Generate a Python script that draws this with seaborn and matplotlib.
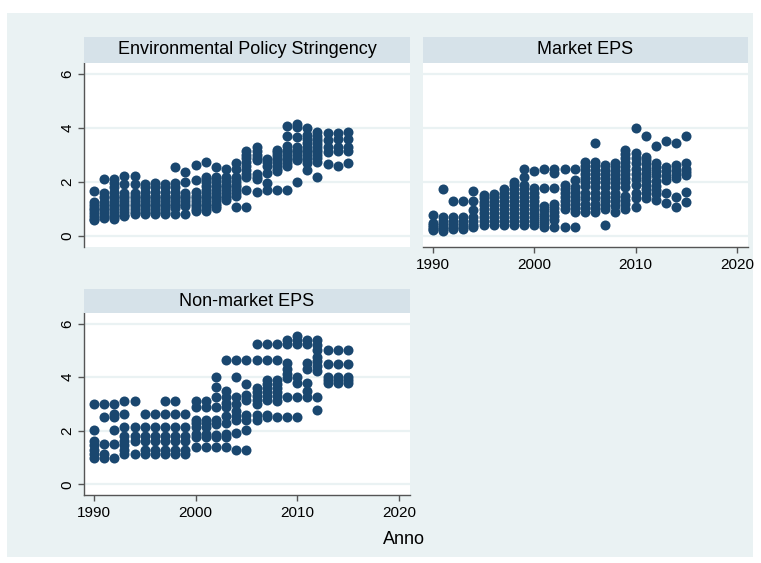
import pandas as pd
import seaborn as sns
import matplotlib.pyplot as plt
from matplotlib.patches import Rectangle

sns.set_style("white")
plt.rcParams["font.family"] = ["Liberation Sans", "DejaVu Sans"]
plt.rcParams["text.color"] = "black"

NAVY = "#1A476F"
BG = "#EAF2F3"
STRIP = "#D6E2E9"

# EPS values per country, grouped by year
eps = {
    1990: [1.66, 1.25, 1.15, 1.05, 0.95, 0.85, 0.75, 0.65, 0.58],
    1991: [2.12, 1.58, 1.45, 1.25, 1.15, 1.05, 0.95, 0.85, 0.75, 0.68],
    1992: [2.12, 1.95, 1.8, 1.65, 1.5, 1.4, 1.3, 1.2, 1.1, 1.0, 0.9, 0.8, 0.7, 0.62],
    1993: [2.22, 1.92, 1.6, 1.5, 1.4, 1.3, 1.2, 1.1, 1.0, 0.9, 0.8, 0.73],
    1994: [2.22, 1.92, 1.6, 1.5, 1.4, 1.3, 1.2, 1.1, 1.0, 0.9, 0.82],
    1995: [1.92, 1.8, 1.65, 1.5, 1.4, 1.3, 1.2, 1.1, 1.0, 0.9, 0.82],
    1996: [1.95, 1.8, 1.65, 1.5, 1.4, 1.3, 1.2, 1.1, 1.0, 0.9, 0.82],
    1997: [1.92, 1.8, 1.65, 1.5, 1.4, 1.3, 1.2, 1.1, 1.0, 0.9, 0.82],
    1998: [2.57, 1.95, 1.8, 1.65, 1.5, 1.4, 1.3, 1.2, 1.1, 1.05, 0.82],
    1999: [2.38, 2.0, 1.6, 1.5, 1.4, 1.3, 1.2, 1.1, 0.82],
    2000: [2.62, 2.07, 1.65, 1.5, 1.4, 1.3, 1.2, 1.1, 1.0, 0.92],
    2001: [2.75, 2.2, 2.1, 2.0, 1.85, 1.7, 1.6, 1.5, 1.4, 1.3, 1.2, 1.1, 1.0, 0.92],
    2002: [2.57, 2.2, 2.1, 2.0, 1.9, 1.8, 1.7, 1.6, 1.5, 1.4, 1.3, 1.2, 1.1, 1.05],
    2003: [2.5, 2.2, 2.05, 1.9, 1.8, 1.7, 1.6, 1.5, 1.4, 1.32],
    2004: [2.72, 2.5, 2.2, 2.1, 2.0, 1.9, 1.8, 1.7, 1.6, 1.5, 1.07],
    2005: [3.15, 3.0, 2.9, 2.75, 2.6, 2.45, 2.3, 2.2, 1.7, 1.08],
    2006: [3.3, 3.15, 3.0, 2.9, 2.8, 2.3, 2.2, 2.1, 1.62],
    2007: [2.85, 2.75, 2.6, 2.35, 1.95, 1.7],
    2008: [3.2, 3.1, 3.0, 2.9, 2.8, 2.7, 2.6, 2.5, 2.4, 1.7],
    2009: [4.07, 3.7, 3.35, 3.2, 3.1, 3.0, 2.9, 2.8, 2.7, 2.6, 1.72],
    2010: [4.15, 4.05, 3.65, 3.3, 3.2, 3.1, 3.0, 2.9, 2.8, 2.0],
    2011: [4.0, 3.75, 3.6, 3.45, 3.3, 3.2, 3.1, 3.0, 2.9, 2.8, 2.7, 2.45],
    2012: [3.85, 3.7, 3.6, 3.5, 3.4, 3.3, 3.2, 3.1, 3.0, 2.9, 2.75, 2.2],
    2013: [3.8, 3.55, 3.3, 3.1, 2.67],
    2014: [3.8, 3.6, 3.3, 3.15, 2.6],
    2015: [3.85, 3.6, 3.3, 3.15, 2.7],
}

market = {
    1990: [0.77, 0.5, 0.42, 0.35, 0.28, 0.22],
    1991: [1.76, 0.7, 0.55, 0.45, 0.35, 0.25, 0.2],
    1992: [1.3, 0.7, 0.55, 0.45, 0.35, 0.25],
    1993: [1.3, 0.7, 0.55, 0.45, 0.35, 0.25],
    1994: [1.68, 1.3, 0.96, 0.7, 0.55, 0.42, 0.33],
    1995: [1.52, 1.4, 1.28, 1.15, 1.0, 0.85, 0.7, 0.55, 0.4],
    1996: [1.57, 1.45, 1.3, 1.15, 1.0, 0.85, 0.7, 0.55, 0.4],
    1997: [1.75, 1.6, 1.45, 1.3, 1.15, 1.0, 0.85, 0.7, 0.55, 0.4],
    1998: [2.0, 1.88, 1.75, 1.6, 1.45, 1.3, 1.15, 1.0, 0.85, 0.7, 0.55, 0.4],
    1999: [2.5, 2.2, 1.9, 1.75, 1.6, 1.45, 1.3, 1.15, 1.0, 0.85, 0.7, 0.55, 0.4],
    2000: [2.42, 1.77, 1.6, 1.45, 1.3, 1.15, 1.0, 0.85, 0.7, 0.55, 0.4],
    2001: [2.5, 1.77, 1.1, 0.95, 0.8, 0.65, 0.5, 0.35],
    2002: [2.5, 2.35, 1.77, 1.2, 1.05, 0.9, 0.75, 0.6, 0.35],
    2003: [2.5, 1.9, 1.75, 1.6, 1.45, 1.3, 1.15, 1.0, 0.35],
    2004: [2.5, 2.07, 1.8, 1.65, 1.5, 1.35, 1.2, 1.05, 0.9, 0.35],
    2005: [2.75, 2.6, 2.45, 2.3, 2.15, 2.0, 1.85, 1.6, 1.4, 1.2, 1.05, 0.9],
    2006: [3.43, 2.75, 2.6, 2.45, 2.3, 2.15, 2.0, 1.8, 1.6, 1.4, 1.2, 1.05, 0.9],
    2007: [2.63, 2.45, 2.3, 2.15, 2.0, 1.8, 1.6, 1.45, 1.3, 1.15, 1.02, 0.41],
    2008: [2.7, 2.55, 2.4, 2.25, 2.1, 1.95, 1.8, 1.6, 1.45, 1.3, 1.1, 0.9],
    2009: [3.2, 3.05, 2.9, 2.75, 2.6, 2.45, 2.3, 2.15, 2.0, 1.8, 1.5, 1.35, 1.2, 1.02],
    2010: [4.0, 3.06, 2.9, 2.7, 2.5, 2.3, 2.1, 1.9, 1.6, 1.4, 1.09],
    2011: [3.7, 2.94, 2.8, 2.65, 2.5, 2.35, 2.2, 2.05, 1.9, 1.75, 1.6, 1.4],
    2012: [3.33, 2.7, 2.55, 2.4, 2.25, 2.05, 1.85, 1.7, 1.55, 1.33],
    2013: [3.53, 2.57, 2.4, 2.22, 2.07, 1.58, 1.21],
    2014: [3.46, 2.63, 2.45, 2.3, 2.14, 1.46, 1.09],
    2015: [3.7, 2.7, 2.5, 2.38, 2.26, 1.64, 1.27],
}

non_market = {
    1990: [3.0, 2.02, 1.6, 1.45, 1.3, 1.15, 1.0],
    1991: [3.0, 2.5, 1.5, 1.12, 1.0],
    1992: [3.0, 2.64, 2.5, 2.02, 1.5, 1.0],
    1993: [3.12, 2.62, 2.14, 1.8, 1.62, 1.45, 1.3, 1.15],
    1994: [3.12, 2.14, 1.8, 1.62, 1.15],
    1995: [2.62, 2.14, 1.8, 1.62, 1.3, 1.15],
    1996: [2.62, 2.14, 1.8, 1.62, 1.3, 1.15],
    1997: [3.12, 2.62, 2.14, 1.8, 1.62, 1.3, 1.15],
    1998: [3.12, 2.62, 2.14, 1.8, 1.62, 1.3, 1.15],
    1999: [2.62, 2.14, 1.8, 1.62, 1.3, 1.15],
    2000: [3.12, 2.9, 2.42, 2.28, 2.15, 1.88, 1.75, 1.4],
    2001: [3.12, 2.9, 2.42, 2.28, 2.15, 1.88, 1.75, 1.4],
    2002: [4.0, 3.63, 3.25, 2.9, 2.4, 2.25, 1.85, 1.75, 1.4],
    2003: [4.64, 3.5, 3.25, 3.05, 2.9, 2.54, 2.3, 1.88, 1.75, 1.4],
    2004: [4.64, 4.0, 3.25, 3.0, 2.75, 2.55, 2.4, 1.9, 1.28],
    2005: [4.64, 3.75, 3.35, 3.15, 2.6, 2.4, 2.02, 1.28],
    2006: [5.26, 4.64, 3.6, 3.45, 3.3, 3.15, 3.0, 2.6, 2.42],
    2007: [5.26, 4.64, 3.9, 3.75, 3.6, 3.45, 3.3, 3.15, 2.6, 2.5],
    2008: [5.26, 4.64, 3.9, 3.75, 3.6, 3.45, 3.3, 3.1, 2.52],
    2009: [5.4, 5.26, 4.52, 4.3, 4.12, 3.98, 3.26, 2.52],
    2010: [5.54, 5.4, 5.26, 4.0, 3.78, 3.26, 2.52],
    2011: [5.4, 5.26, 4.52, 4.3, 3.78, 3.5, 3.26],
    2012: [5.4, 5.2, 5.0, 4.75, 4.6, 4.42, 4.25, 3.26, 2.76],
    2013: [5.02, 4.5, 4.0, 3.9, 3.78],
    2014: [5.02, 4.5, 4.0, 3.9, 3.78],
    2015: [5.02, 4.5, 4.0, 3.9, 3.78],
}

titles = ["Environmental Policy Stringency", "Market EPS", "Non-market EPS"]
x_ticks = [1990, 2000, 2010, 2020]
y_ticks = [0, 2, 4, 6]


def to_frame(points):
    rows = [(yr, v) for yr, vals in points.items() for v in vals]
    return pd.DataFrame(rows, columns=["anno", "valore"])


W, H = 761, 563
fig = plt.figure(figsize=(W / 100, H / 100), dpi=100)
fig.patch.set_facecolor("white")
fig.patches.append(Rectangle((7 / W, (H - 557) / H), 746 / W, 544 / H,
                             transform=fig.transFigure, facecolor=BG,
                             edgecolor="none", zorder=-10))


def px_axes(x0, y0, x1, y1):
    return fig.add_axes([x0 / W, (H - y1) / H, (x1 - x0) / W, (y1 - y0) / H])


# (data, plot box, strip box, show y axis, show x axis)
layout = [
    (eps, (84, 63, 410, 247), (37, 63), True, False),
    (market, (423, 63, 748, 247), (37, 63), False, True),
    (non_market, (84, 313, 410, 495), (289, 313), True, True),
]

for title, (points, box, strip, show_y, show_x) in zip(titles, layout):
    x0, y0, x1, y1 = box
    ax = px_axes(*box)
    ax.set_facecolor("white")
    sns.scatterplot(data=to_frame(points), x="anno", y="valore", ax=ax,
                    color=NAVY, s=52, linewidth=0, zorder=3)
    ax.set_xlim(1989.03, 2021.1)
    ax.set_ylim(-0.4, 6.4)
    ax.set_xticks(x_ticks)
    ax.set_yticks(y_ticks)
    ax.set_xlabel("")
    ax.set_ylabel("")
    ax.yaxis.grid(True, color=BG, lw=1.6)
    ax.set_axisbelow(True)
    for s in ["top", "right"]:
        ax.spines[s].set_visible(False)
    ax.spines["left"].set_visible(show_y)
    ax.spines["bottom"].set_visible(show_x)
    for s in ["left", "bottom"]:
        ax.spines[s].set_color("#555555")
        ax.spines[s].set_linewidth(1.0)
    ax.tick_params(axis="y", left=show_y, labelleft=show_y, length=4,
                   width=1, color="#555555", labelcolor="black", pad=3,
                   labelsize=11, labelrotation=90)
    ax.tick_params(axis="x", bottom=show_x, labelbottom=show_x, length=4,
                   width=1, color="#555555", labelcolor="black", pad=4,
                   labelsize=11)
    for lab in ax.get_yticklabels():
        lab.set_va("center")

    sax = px_axes(x0, strip[0], x1, strip[1])
    sax.set_facecolor(STRIP)
    sax.set_xticks([])
    sax.set_yticks([])
    for s in sax.spines.values():
        s.set_visible(False)
    sax.text(0.5, 0.5, title, ha="center", va="center", fontsize=13,
             color="black", transform=sax.transAxes)

fig.text(404 / W, 1 - 540 / H, "Anno", ha="center", va="center", fontsize=13,
         color="black")

fig.savefig("out.png", dpi=100, facecolor="white")
